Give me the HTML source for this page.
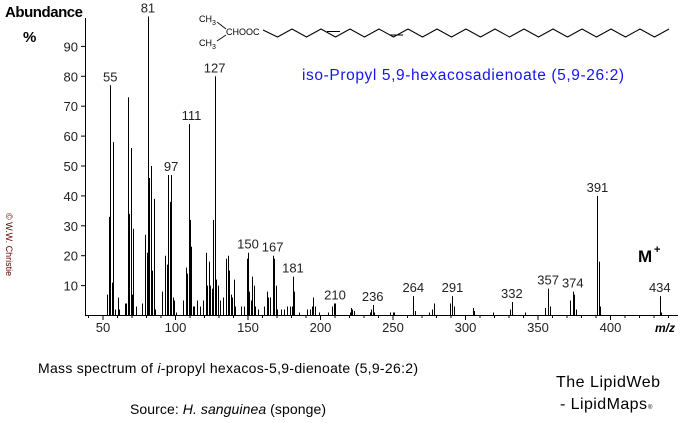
<!DOCTYPE html>
<html><head><meta charset="utf-8"><style>
body{margin:0;background:#fff;width:684px;height:423px;overflow:hidden}
svg{display:block;font-family:"Liberation Sans",Arial,sans-serif}
</style></head><body>
<svg id="s" width="684" height="423" viewBox="0 0 684 423">
<text x="5" y="17" font-size="15" font-weight="bold" textLength="78">Abundance</text>
<text x="23" y="42" font-size="15" font-weight="bold">%</text>
<text transform="translate(6,213) rotate(90)" font-size="9" fill="#600">© W.W. Christie</text>
<line x1="85.5" y1="18" x2="85.5" y2="316" stroke="#000"/>
<line x1="85" y1="315.5" x2="678" y2="315.5" stroke="#000"/>
<g id="g"></g>
<text x="302" y="80" font-size="15.5" fill="#1515ee" textLength="322">iso-Propyl 5,9-hexacosadienoate  (5,9-26:2)</text>
<text x="199" y="22" font-size="9">CH<tspan font-size="7" dy="3">3</tspan></text>
<text x="199" y="46" font-size="9">CH<tspan font-size="7" dy="3">3</tspan></text>
<text x="226" y="35" font-size="9">CHOOC</text>
<line x1="217" y1="22" x2="226" y2="29" stroke="#000" stroke-width="0.8"/>
<line x1="217" y1="41" x2="226" y2="35" stroke="#000" stroke-width="0.8"/>
<polyline id="chain" fill="none" stroke="#000" stroke-width="1"/>
<line x1="327" y1="31.5" x2="340" y2="31.5" stroke="#000"/>
<line x1="390" y1="35" x2="403" y2="35" stroke="#000"/>
<text x="638" y="262" font-size="17" font-weight="bold">M</text>
<text x="654" y="253" font-size="11" font-weight="bold">+</text>
<text x="655" y="332" font-size="12" font-weight="bold" font-style="italic">m/z</text>
<text x="38" y="373" font-size="14" textLength="380">Mass spectrum of <tspan font-style="italic">i</tspan>-propyl hexacos-5,9-dienoate (5,9-26:2)</text>
<text x="130" y="414" font-size="14" textLength="196">Source: <tspan font-style="italic">H. sanguinea</tspan> (sponge)</text>
<text x="556" y="387" font-size="16" textLength="104">The LipidWeb</text>
<text x="560" y="409" font-size="16" textLength="87">- LipidMaps</text>
<text x="648" y="409" font-size="6">®</text>
</svg>
<script>
var g=document.getElementById('g'),h='';
function X(m){return 103+(m-50)*1.45}
function Y(v){return 315.5-2.99*v}
for(var v=10;v<=90;v+=10)h+='<line x1="81" y1="'+Y(v)+'" x2="85" y2="'+Y(v)+'" stroke="#000"/><text x="78" y="'+(Y(v)+5)+'" font-size="13" text-anchor="end" fill="#222">'+v+'</text>';
for(var m=40;m<=440;m+=10){var x=X(m);h+='<line x1="'+x+'" y1="315" x2="'+x+'" y2="'+(m%50?318:320)+'" stroke="#000"/>';}
for(var m=50;m<=400;m+=50)h+='<text x="'+X(m)+'" y="332" font-size="13" text-anchor="middle" fill="#222">'+m+'</text>';
var p=[[53,7],[54,33],[55,77],[56,11],[57,58],[58,2],[60,6],[61,2],[65,4],[66,4],[67,73],[68,34],[69,56],[70,7],[71,29],[73,3],[77,4],[79,27],[80,21],[81,100],[82,46],[83,50],[84,15],[85,39],[86,2],[91,8],[93,20],[94,17],[95,47],[96,38],[97,47],[98,6],[99,5],[100,1],[105,5],[107,16],[108,14],[109,64],[110,32],[111,23],[112,3],[113,3],[115,5],[117,3],[119,5],[121,21],[122,10],[123,18],[124,10],[125,9],[126,32],[127,80],[128,12],[129,10],[131,5],[133,6],[135,19],[136,20],[137,15],[138,7],[139,6],[140,12],[141,3],[145,3],[147,3],[149,19],[150,21],[151,8],[152,5],[153,13],[154,10],[155,3],[157,2],[161,3],[163,8],[164,6],[165,6],[167,20],[168,19],[169,10],[170,2],[173,2],[175,2],[177,3],[179,3],[180,3],[181,13],[182,8],[185,1],[191,2],[193,2],[194,3],[195,6],[196,3],[199,1],[205,1],[208,3],[209,4],[210,4],[220,1],[221,2.5],[222,2],[223,1.5],[234,1],[235,2],[236,3.5],[237,1],[248,1],[250,1],[251,1],[264,6.5],[265,1.5],[275,1],[277,2],[278,4],[289,4],[291,6.5],[292,3],[305,2.5],[306,1.5],[319,1],[331,2],[332,4.5],[341,1],[355,2.5],[357,9],[358,3],[372,5],[374,8],[375,7],[376,2],[391,40],[392,18],[393,3],[434,6.5],[435,1]];
p.forEach(function(q){var x=Math.round(X(q[0]))+0.5;h+='<line x1="'+x+'" y1="315" x2="'+x+'" y2="'+Y(q[1])+'" stroke="#000" stroke-width="1"/>';});
var L=[[55,77],[81,100],[97,47],[111,64],[127,80],[150,21],[167,20],[181,13],[210,4],[236,3.5],[264,6.5],[291,6.5],[332,4.5],[357,9],[374,8],[391,40],[434,6.5]];
L.forEach(function(q){h+='<text x="'+X(q[0])+'" y="'+(Y(q[1])-4)+'" font-size="13" text-anchor="middle" fill="#222">'+q[0]+'</text>';});
g.innerHTML=h;
var pts=[],x=263,up=true;pts.push('263,30');
while(x<657){x+=14.5;up=!up;pts.push(x.toFixed(1)+','+(up?29:37));}
document.getElementById('chain').setAttribute('points',pts.join(' '));
</script>
</body></html>
